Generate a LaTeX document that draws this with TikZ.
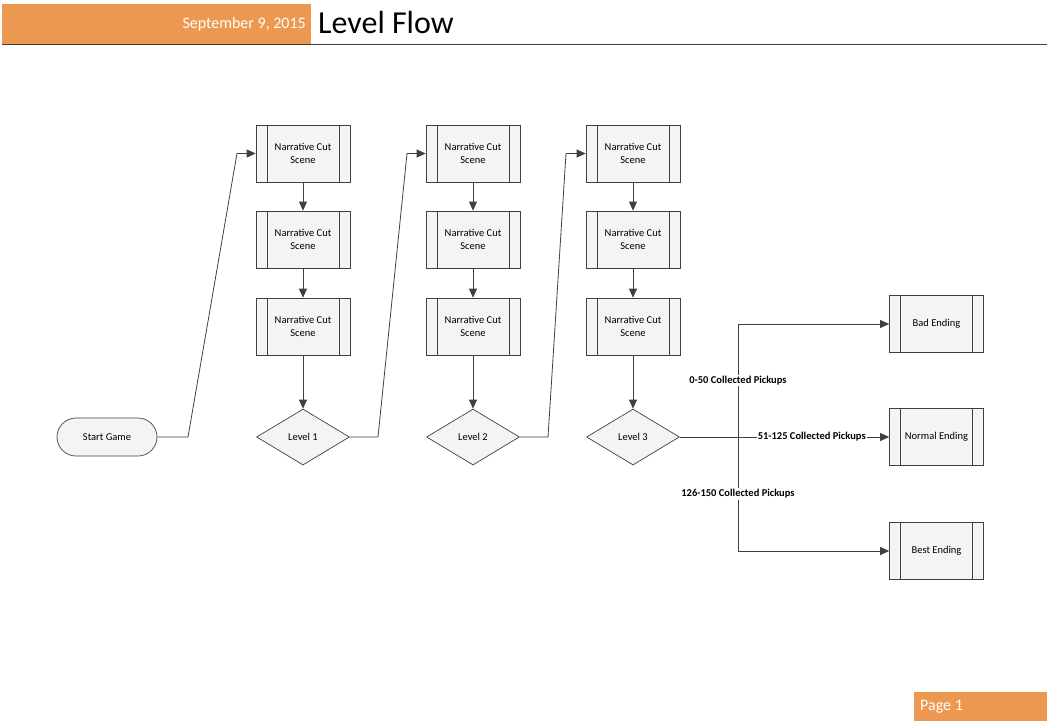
\documentclass[tikz,border=0pt]{standalone}
\usepackage{fontspec}
\setmainfont{Carlito}
\usetikzlibrary{shapes.geometric,arrows.meta}
\definecolor{hdr}{HTML}{EC9850}
\definecolor{ln}{HTML}{404040}
\definecolor{boxfill}{HTML}{F4F4F4}
\tikzset{
  sub/.style={draw=ln,fill=boxfill,minimum width=94pt,minimum height=57pt,inner sep=0pt,align=center,font=\fontsize{10.5}{13}\selectfont,line width=0.7pt,
    path picture={\draw[ln,line width=0.7pt] ([xshift=11pt]path picture bounding box.north west)--([xshift=11pt]path picture bounding box.south west);
      \draw[ln,line width=0.7pt] ([xshift=-11pt]path picture bounding box.north east)--([xshift=-11pt]path picture bounding box.south east);}},
  dec/.style={diamond,draw=ln,fill=boxfill,aspect=1.66,minimum width=93pt,minimum height=56pt,inner sep=0pt,font=\fontsize{10.5}{12}\selectfont,line width=0.7pt},
  term/.style={draw=ln,fill=boxfill,rounded corners=19pt,minimum width=100pt,minimum height=38pt,font=\fontsize{10.5}{12}\selectfont,line width=0.7pt},
  conn/.style={draw=ln,line width=0.8pt,-{Triangle[length=9pt,width=8pt]}},
  lbl/.style={fill=white,inner sep=1pt,font=\bfseries\fontsize{10.5}{12}\selectfont}
}
\begin{document}
\begin{tikzpicture}[x=1pt,y=-1pt]
\useasboundingbox (0,0) rectangle (1049,723);
% header
\fill[hdr] (2,4) rectangle (311,44);
\node[anchor=east,text=white,font=\fontsize{16}{18}\selectfont,inner sep=0pt] (date) at (306,24) {September 9, 2015};
\node[anchor=west,font=\fontsize{32}{34}\selectfont,inner sep=0pt] (title) at (318,22) {Level Flow};
\draw[ln,line width=0.8pt] (2,44.5) -- (1047,44.5);
% footer
\fill[hdr] (914,692) rectangle (1047,721);
\node[anchor=west,text=white,font=\fontsize{16}{18}\selectfont,inner sep=0pt] (page) at (920,707) {Page 1};
% nodes
\node[term] (start) at (107,437) {Start Game};
\foreach \c/\x in {a/303,b/473,c/633}{
  \node[sub] (\c1) at (\x,153.5) {Narrative Cut\\Scene};
  \node[sub] (\c2) at (\x,239.5) {Narrative Cut\\Scene};
  \node[sub] (\c3) at (\x,326.5) {Narrative Cut\\Scene};
}
\node[dec] (l1) at (303,437) {Level 1};
\node[dec] (l2) at (473,437) {Level 2};
\node[dec] (l3) at (633,437) {Level 3};
\node[sub] (bad) at (936.5,324) {Bad Ending};
\node[sub] (normal) at (936.5,437) {Normal Ending};
\node[sub] (best) at (936.5,551) {Best Ending};
% connectors
\foreach \c in {a,b,c}{
  \draw[conn] (\c1) -- (\c2);
  \draw[conn] (\c2) -- (\c3);
}
\draw[conn] (a3) -- (l1);
\draw[conn] (b3) -- (l2);
\draw[conn] (c3) -- (l3);
\coordinate (s1) at (188,437); \coordinate (s2) at (237,153.5);
\coordinate (t1) at (378,437); \coordinate (t2) at (407,153.5);
\coordinate (u1) at (548,437); \coordinate (u2) at (566,153.5);
\draw[conn] (start.east) -- (s1) -- (s2) -- (a1.west);
\draw[conn] (l1.east) -- (t1) -- (t2) -- (b1.west);
\draw[conn] (l2.east) -- (u1) -- (u2) -- (c1.west);
\coordinate (v) at (738,437);
\draw[conn] (l3.east) -- (v) |- (bad.west) node[lbl,pos=0.25] {0-50 Collected Pickups};
\draw[conn] (l3.east) -- (v) |- (best.west) node[lbl,pos=0.25] {126-150 Collected Pickups};
\draw[conn] (l3.east) -- (normal.west) node[lbl,pos=0.63] {51-125 Collected Pickups};
\end{tikzpicture}
\end{document}
